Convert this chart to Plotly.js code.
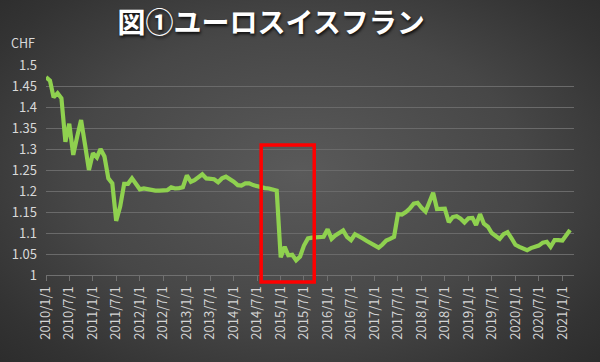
<!DOCTYPE html>
<html>
<head>
<meta charset="utf-8">
<script src="https://cdn.plot.ly/plotly-3.0.1.min.js"></script>
<style>
html,body{margin:0;padding:0;}
body{width:600px;height:362px;overflow:hidden;
background:radial-gradient(ellipse 75% 80% at 50% 48%, #5a5a5a 0%, #474747 50%, #333333 80%, #292929 100%);}
#chart{width:600px;height:362px;}
</style>
</head>
<body>
<div id="chart"></div>
<script>
// EUR/CHF monthly values
var startYear = 2010;
var v2010 = [1.471,1.463,1.423,1.433,1.421,1.317,1.360,1.286,1.330,1.369,1.310,1.250];
var v2011 = [1.290,1.280,1.300,1.282,1.230,1.218,1.129,1.163,1.217,1.217,1.230,1.215];
var v2012 = [1.204,1.206,1.204,1.201,1.201,1.201,1.201,1.202,1.209,1.206,1.207,1.209];
var v2013 = [1.237,1.222,1.226,1.233,1.240,1.230,1.230,1.228,1.221,1.230,1.234,1.229];
var v2014 = [1.222,1.214,1.213,1.218,1.218,1.214,1.211,1.209,1.207,1.206,1.203,1.201];
var v2015 = [1.042,1.067,1.047,1.048,1.035,1.044,1.070,1.087,1.089,1.089,1.090,1.091];
var v2016 = [1.109,1.086,1.094,1.100,1.106,1.090,1.083,1.097,1.093,1.087,1.081,1.076];
var v2017 = [1.070,1.065,1.072,1.082,1.086,1.091,1.145,1.144,1.150,1.158,1.170,1.172];
var v2018 = [1.160,1.151,1.172,1.196,1.157,1.157,1.158,1.126,1.138,1.140,1.134,1.125];
var v2019 = [1.135,1.136,1.119,1.145,1.122,1.115,1.100,1.093,1.086,1.097,1.102,1.088];
var v2020 = [1.072,1.067,1.064,1.059,1.064,1.066,1.070,1.077,1.079,1.067,1.083,1.083];
var v2021 = [1.082,1.095,1.107];

var xTickLabels = ['2010/1/1','2010/7/1','2011/1/1','2011/7/1','2012/1/1','2012/7/1',
  '2013/1/1','2013/7/1','2014/1/1','2014/7/1','2015/1/1','2015/7/1','2016/1/1','2016/7/1',
  '2017/1/1','2017/7/1','2018/1/1','2018/7/1','2019/1/1','2019/7/1','2020/1/1','2020/7/1','2021/1/1'];
var yTickVals = [1,1.05,1.1,1.15,1.2,1.25,1.3,1.35,1.4,1.45,1.5];
var yTickText = ['1','1.05','1.1','1.15','1.2','1.25','1.3','1.35','1.4','1.45','1.5'];

var values = [].concat(v2010,v2011,v2012,v2013,v2014,v2015,v2016,v2017,v2018,v2019,v2020,v2021);
function pad(n){return (n<10?'0':'')+n;}
var dates = values.map(function(_,i){
  var y = startYear + Math.floor(i/12), m = i%12 + 1;
  return y + '-' + pad(m) + '-01';
});
var xTickVals = xTickLabels.map(function(s){
  var p = s.split('/');
  return p[0] + '-' + pad(+p[1]) + '-' + pad(+p[2]);
});

var fontFam = '"Noto Sans CJK JP", "Noto Sans", sans-serif';

var trace = {
  x: dates, y: values, type: 'scatter', mode: 'lines',
  line: {color: '#8fd14f', width: 4.2, shape: 'linear'},
  hoverinfo: 'x+y'
};

var layout = {
  width: 600, height: 362,
  margin: {l: 46, r: 26, t: 65, b: 87, pad: 0},
  paper_bgcolor: 'rgba(0,0,0,0)',
  plot_bgcolor: 'rgba(0,0,0,0)',
  showlegend: false,
  title: {
    text: '<b>図①ユーロスイスフラン</b>',
    font: {family: fontFam, size: 28, color: '#ffffff', shadow: '1px 2px 3px rgba(0,0,0,0.8)'},
    x: 0.452, xanchor: 'center', xref: 'container',
    y: 0.935, yanchor: 'middle', yref: 'container'
  },
  xaxis: {
    type: 'date',
    range: ['2010-01-01', '2021-04-01'],
    tickmode: 'array', tickvals: xTickVals, ticktext: xTickLabels,
    tickangle: -90,
    tickfont: {family: fontFam, size: 13, color: '#d4d4d4'},
    ticks: 'outside', ticklen: 5, tickcolor: '#707070', tickwidth: 1,
    showline: true, linecolor: '#707070', linewidth: 1,
    showgrid: false, zeroline: false,
    fixedrange: true
  },
  yaxis: {
    range: [1, 1.5],
    tickmode: 'array', tickvals: yTickVals, ticktext: yTickText,
    tickfont: {family: fontFam, size: 13, color: '#d9d9d9'},
    ticks: '', ticklabelstandoff: 8,
    showgrid: true, gridcolor: '#6a6a6a', gridwidth: 1,
    showline: false, zeroline: false,
    fixedrange: true
  },
  annotations: [{
    text: 'CHF', xref: 'paper', yref: 'paper',
    x: -0.044, y: 1.105, xanchor: 'center', yanchor: 'middle',
    showarrow: false,
    font: {family: fontFam, size: 12.5, color: '#d9d9d9'}
  }],
  shapes: [{
    type: 'rect', xref: 'paper', yref: 'paper',
    x0: 0.4075, x1: 0.508, y0: -0.033, y1: 0.619,
    line: {color: '#ff0000', width: 3.5},
    fillcolor: 'rgba(0,0,0,0)', layer: 'above'
  }]
};

Plotly.newPlot('chart', [trace], layout, {displayModeBar: false, staticPlot: true});
</script>
</body>
</html>
